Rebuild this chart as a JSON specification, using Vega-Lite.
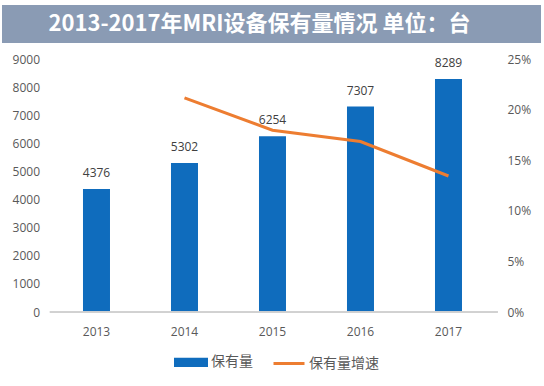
{
  "$schema": "https://vega.github.io/schema/vega-lite/v6.json",
  "background": "white",
  "padding": {"left": 2, "top": 5, "right": 3, "bottom": 0},
  "spacing": 10,
  "config": {"view": {"stroke": null}},
  "vconcat": [
    {
      "width": 539,
      "height": 38,
      "view": {"fill": "#8A9BB4", "stroke": null},
      "data": {"values": [{"title": "2013-2017年MRI设备保有量情况 单位：台"}]},
      "mark": {"type": "text", "font": "Noto Sans CJK SC", "fontWeight": "bold", "fontSize": 22, "color": "white", "dx": -12},
      "encoding": {"text": {"field": "title"}}
    },
    {
      "width": 539,
      "height": 253,
      "data": {"values": [
        {"year": "2013", "count": 4376, "growth": null},
        {"year": "2014", "count": 5302, "growth": 0.2116},
        {"year": "2015", "count": 6254, "growth": 0.1796},
        {"year": "2016", "count": 7307, "growth": 0.1684},
        {"year": "2017", "count": 8289, "growth": 0.1344}
      ]},
      "encoding": {
        "x": {"field": "year", "type": "nominal", "title": null,
          "scale": {"paddingInner": 0, "paddingOuter": 0.5625, "align": 0.51},
          "axis": {"labelAngle": 0, "ticks": false, "domain": false, "labelFont": "Open Sans", "labelFontSize": 12, "labelColor": "#595959", "labelPadding": 14}}
      },
      "layer": [
        {
          "encoding": {
            "y": {"field": "count", "type": "quantitative", "title": null,
              "scale": {"domain": [0, 9000], "nice": false},
              "axis": {"orient": "left", "offset": -50, "values": [0,1000,2000,3000,4000,5000,6000,7000,8000,9000], "format": "d", "labelOverlap": false, "grid": false, "domain": false, "ticks": false, "labelFont": "Open Sans", "labelFontSize": 12, "labelColor": "#595959", "labelPadding": 12.5}}
          },
          "layer": [
            {
              "mark": {"type": "bar", "width": 27},
              "encoding": {
                "color": {"datum": "保有量", "type": "nominal",
                  "scale": {"domain": ["保有量", "保有量增速"], "range": ["#0F6CBD", "#ED7D31"]},
                  "legend": {"orient": "none", "legendX": 172, "legendY": 340, "direction": "horizontal", "title": null,
                    "labelFont": "Noto Sans CJK SC", "labelFontSize": 14, "labelColor": "#595959", "labelOffset": 3,
                    "symbolSize": 961, "columnPadding": 14, "symbolStrokeWidth": 3,
                    "encode": {"symbols": {"update": {
                      "shape": {"signal": "datum.value === '保有量' ? 'M-1,-0.2H1V0.2H-1Z' : 'M-1,0H1'"},
                      "fill": {"signal": "datum.value === '保有量' ? '#0F6CBD' : 'transparent'"},
                      "stroke": {"signal": "datum.value === '保有量' ? 'transparent' : '#ED7D31'"},
                      "strokeWidth": {"value": 3}
                    }}}}
                }
              }
            },
            {
              "mark": {"type": "text", "baseline": "middle", "dy": -16, "font": "Open Sans", "fontSize": 12, "color": "#404040"},
              "encoding": {
                "text": {"field": "count", "type": "quantitative", "format": "d"}
              }
            },
            {
              "mark": {"type": "rule", "color": "#D0D0D0", "strokeWidth": 1},
              "encoding": {
                "x": {"datum": "2013", "bandPosition": -0.03},
                "x2": {"datum": "2017", "bandPosition": 1.06},
                "y": {"datum": 0, "type": "quantitative"}
              }
            }
          ]
        },
        {
          "mark": {"type": "line", "strokeWidth": 3},
          "encoding": {
            "y": {"field": "growth", "type": "quantitative", "title": null,
              "scale": {"domain": [0, 0.25], "nice": false},
              "axis": {"orient": "right", "offset": -49, "values": [0, 0.05, 0.1, 0.15, 0.2, 0.25], "format": ".0%", "labelOverlap": false, "grid": false, "domain": false, "ticks": false, "labelFont": "Open Sans", "labelFontSize": 12, "labelColor": "#595959", "labelPadding": 15}},
            "color": {"datum": "保有量增速", "type": "nominal"}
          }
        }
      ],
      "resolve": {"scale": {"y": "independent"}}
    }
  ]
}
